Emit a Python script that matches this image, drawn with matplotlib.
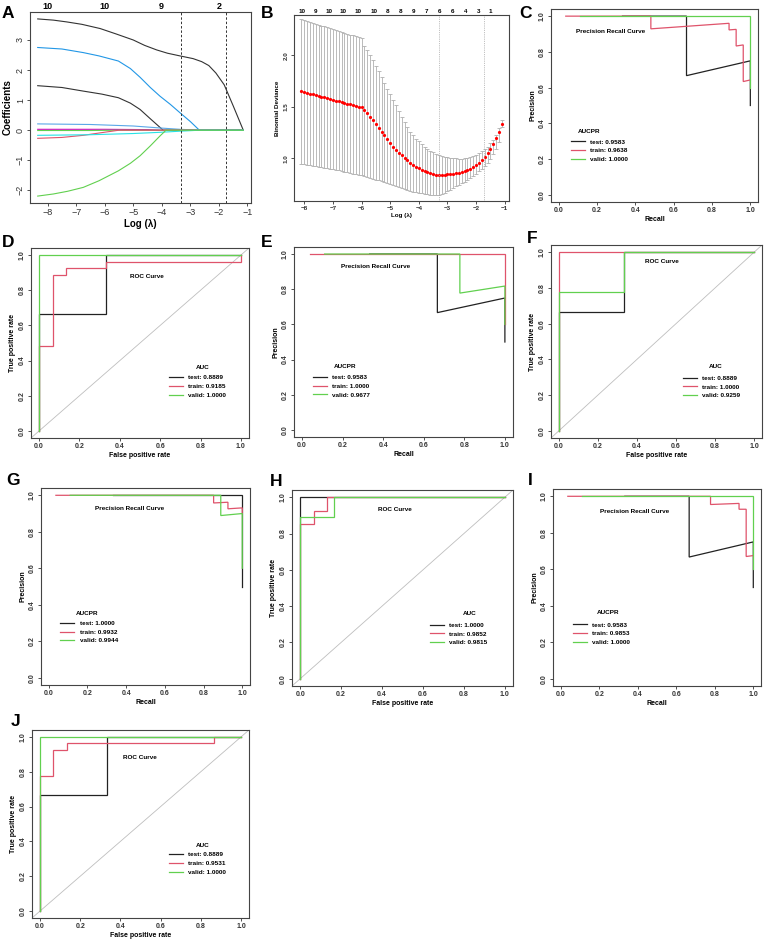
import matplotlib
matplotlib.use('Agg')
import matplotlib.pyplot as plt
from matplotlib.lines import Line2D

plt.rcParams['font.family'] = ['Liberation Sans', 'DejaVu Sans']

W, H = 767, 941
fig = plt.figure(figsize=(W / 100, H / 100), dpi=100)

# ---------------- Panel A : LASSO coefficient paths ----------------
A_path_colors = ['#333333', '#2297E6', '#333333', '#5AA7E8', '#CD0BBC',
                 '#61D04F', '#DF536B', '#28E2E5', '#61D04F']
A_path_x = [
    [-8.35, -7.8, -7.33, -6.8, -6.16, -5.6, -5.0, -4.6, -4.18, -3.8, -3.36, -2.9, -2.6, -2.35, -2.1, -1.81, -1.49, -1.14],
    [-8.35, -7.5, -6.75, -6.2, -5.52, -5.1, -4.76, -4.4, -4.06, -3.7, -3.36, -3.0, -2.68, -1.14],
    [-8.35, -7.5, -6.75, -6.1, -5.52, -5.1, -4.76, -4.4, -3.95, -1.14],
    [-8.35, -6.5, -5.0, -4.0, -3.36, -2.7, -1.14],
    [-8.35, -6.0, -4.5, -4.0, -1.14],
    [-8.35, -6.5, -5.5, -1.14],
    [-8.35, -7.5, -6.75, -6.1, -5.5, -1.14],
    [-8.35, -6.5, -5.0, -4.06, -3.3, -2.68, -1.14],
    [-8.35, -7.8, -7.3, -6.75, -6.2, -5.52, -5.1, -4.76, -4.4, -4.06, -3.85, -1.14],
]
A_path_y = [
    [3.70, 3.66, 3.60, 3.52, 3.38, 3.20, 3.00, 2.82, 2.67, 2.56, 2.47, 2.38, 2.28, 2.15, 1.90, 1.51, 0.80, 0.0],
    [2.75, 2.70, 2.58, 2.47, 2.30, 2.05, 1.76, 1.42, 1.13, 0.86, 0.58, 0.29, 0.0, 0.0],
    [1.48, 1.42, 1.30, 1.20, 1.08, 0.90, 0.69, 0.38, 0.0, 0.0],
    [0.21, 0.19, 0.14, 0.07, 0.03, 0.0, 0.0],
    [0.03, 0.03, 0.02, 0.0, 0.0],
    [-0.01, -0.01, 0.0, 0.0],
    [-0.27, -0.24, -0.17, -0.08, 0.0, 0.0],
    [-0.17, -0.15, -0.11, -0.07, -0.03, 0.0, 0.0],
    [-2.19, -2.12, -2.03, -1.90, -1.68, -1.35, -1.10, -0.85, -0.52, -0.19, 0.0, 0.0],
]
A_top_ticks = [-8, -6, -4, -2]
A_top_labels = ['10', '10', '9', '2']
lambda_min = -3.33
lambda_1se = -1.76

# ---------------- Panel B : CV binomial deviance ----------------
B_log_lambda = [-8.1, -8.0, -7.9, -7.8, -7.7, -7.6, -7.5, -7.4, -7.3, -7.2, -7.1, -7.0, -6.9, -6.8, -6.7, -6.6,
                -6.5, -6.4, -6.3, -6.2, -6.1, -6.0, -5.9, -5.8, -5.7, -5.6, -5.5, -5.4, -5.3, -5.2, -5.1, -5.0,
                -4.9, -4.8, -4.7, -4.6, -4.5, -4.4, -4.3, -4.2, -4.1, -4.0, -3.9, -3.8, -3.7, -3.6, -3.5, -3.4,
                -3.3, -3.2, -3.1, -3.0, -2.9, -2.8, -2.7, -2.6, -2.5, -2.4, -2.3, -2.2, -2.1, -2.0, -1.9, -1.8,
                -1.7, -1.6, -1.5, -1.4, -1.3, -1.2, -1.1]
B_cvm = [1.650, 1.643, 1.635, 1.628, 1.620, 1.613, 1.606, 1.598, 1.591, 1.584, 1.576, 1.569, 1.561, 1.554,
         1.547, 1.539, 1.532, 1.524, 1.517, 1.510, 1.502, 1.495, 1.470, 1.440, 1.405, 1.370, 1.335, 1.295,
         1.258, 1.222, 1.186, 1.150, 1.115, 1.085, 1.055, 1.030, 1.005, 0.980, 0.960, 0.940, 0.920, 0.905,
         0.890, 0.876, 0.864, 0.855, 0.848, 0.843, 0.840, 0.840, 0.842, 0.845, 0.848, 0.852, 0.856, 0.860,
         0.866, 0.874, 0.884, 0.897, 0.913, 0.932, 0.955, 0.982, 1.012, 1.050, 1.090, 1.140, 1.195, 1.260, 1.335]
B_cvup = [2.350, 2.341, 2.332, 2.324, 2.315, 2.306, 2.297, 2.288, 2.280, 2.271, 2.262, 2.253, 2.244, 2.236,
          2.227, 2.218, 2.209, 2.200, 2.192, 2.183, 2.174, 2.165, 2.090, 2.050, 2.000, 1.950, 1.900, 1.850,
          1.790, 1.735, 1.675, 1.625, 1.570, 1.520, 1.460, 1.400, 1.350, 1.300, 1.260, 1.225, 1.190, 1.165,
          1.140, 1.115, 1.095, 1.075, 1.060, 1.045, 1.035, 1.025, 1.018, 1.012, 1.007, 1.003, 1.000, 0.998,
          0.998, 1.000, 1.005, 1.012, 1.022, 1.035, 1.050, 1.068, 1.090, 1.115, 1.145, 1.180, 1.225, 1.290, 1.370]
B_cvlo = [0.945, 0.941, 0.937, 0.933, 0.929, 0.925, 0.920, 0.915, 0.910, 0.905, 0.900, 0.895, 0.889, 0.883,
          0.877, 0.871, 0.865, 0.859, 0.853, 0.847, 0.841, 0.835, 0.828, 0.820, 0.812, 0.804, 0.795, 0.786,
          0.777, 0.768, 0.759, 0.749, 0.740, 0.730, 0.720, 0.710, 0.700, 0.691, 0.683, 0.676, 0.670, 0.665,
          0.660, 0.656, 0.652, 0.650, 0.648, 0.647, 0.648, 0.655, 0.667, 0.682, 0.698, 0.713, 0.728, 0.742,
          0.757, 0.772, 0.789, 0.807, 0.827, 0.849, 0.873, 0.898, 0.925, 0.960, 0.998, 1.040, 1.090, 1.160, 1.300]
B_top_ticks = [-8.08, -7.62, -7.15, -6.63, -6.11, -5.56, -5.09, -4.63, -4.19, -3.74, -3.28, -2.83, -2.36, -1.91, -1.49]
B_top_labels = ['10', '9', '10', '10', '10', '10', '8', '8', '9', '7', '6', '6', '4', '3', '1']

# ---------------- Panels C, E, G, I : precision-recall ----------------
C_test_recall = [0.333, 0.667, 0.667, 1.0, 1.0]
C_test_precision = [1.0, 1.0, 0.667, 0.75, 0.5]
C_train_recall = [0.037, 0.481, 0.481, 0.889, 0.889, 0.926, 0.926, 0.963, 0.963, 1.0]
C_train_precision = [1.0, 1.0, 0.929, 0.96, 0.923, 0.926, 0.833, 0.839, 0.634, 0.643]
C_valid_recall = [0.111, 1.0, 1.0]
C_valid_precision = [1.0, 1.0, 0.6]
C_legend = ['test: 0.9583', 'train: 0.9638', 'valid: 1.0000']

E_test_recall = [0.333, 0.667, 0.667, 1.0, 1.0]
E_test_precision = [1.0, 1.0, 0.667, 0.75, 0.5]
E_train_recall = [0.037, 1.0, 1.0]
E_train_precision = [1.0, 1.0, 0.6]
E_valid_recall = [0.111, 0.778, 0.778, 1.0, 1.0]
E_valid_precision = [1.0, 1.0, 0.778, 0.818, 0.6]
E_legend = ['test: 0.9583', 'train: 1.0000', 'valid: 0.9677']

G_test_recall = [0.333, 1.0, 1.0]
G_test_precision = [1.0, 1.0, 0.5]
G_train_recall = [0.037, 0.852, 0.852, 0.926, 0.926, 1.0, 1.0]
G_train_precision = [1.0, 1.0, 0.958, 0.962, 0.926, 0.931, 0.9]
G_valid_recall = [0.111, 0.889, 0.889, 1.0, 1.0]
G_valid_precision = [1.0, 1.0, 0.889, 0.9, 0.6]
G_legend = ['test: 1.0000', 'train: 0.9932', 'valid: 0.9944']

I_test_recall = [0.333, 0.667, 0.667, 1.0, 1.0]
I_test_precision = [1.0, 1.0, 0.667, 0.75, 0.5]
I_train_recall = [0.037, 0.778, 0.778, 0.926, 0.926, 0.963, 0.963, 1.0]
I_train_precision = [1.0, 1.0, 0.955, 0.961, 0.929, 0.929, 0.67, 0.675]
I_valid_recall = [0.111, 1.0, 1.0]
I_valid_precision = [1.0, 1.0, 0.6]
I_legend = ['test: 0.9583', 'train: 0.9853', 'valid: 1.0000']

# ---------------- Panels D, F, H, J : ROC ----------------
D_test_fpr = [0, 0, 0.333, 0.333, 1.0]
D_test_tpr = [0, 0.667, 0.667, 1.0, 1.0]
D_train_fpr = [0, 0, 0.067, 0.067, 0.133, 0.133, 0.333, 0.333, 1.0, 1.0]
D_train_tpr = [0, 0.481, 0.481, 0.889, 0.889, 0.926, 0.926, 0.963, 0.963, 1.0]
D_valid_fpr = [0, 0, 1.0]
D_valid_tpr = [0, 1.0, 1.0]
D_legend = ['test: 0.8889', 'train: 0.9185', 'valid: 1.0000']

F_test_fpr = [0, 0, 0.333, 0.333, 1.0]
F_test_tpr = [0, 0.667, 0.667, 1.0, 1.0]
F_train_fpr = [0, 0, 1.0]
F_train_tpr = [0, 1.0, 1.0]
F_valid_fpr = [0, 0, 0.333, 0.333, 1.0]
F_valid_tpr = [0, 0.778, 0.778, 1.0, 1.0]
F_legend = ['test: 0.8889', 'train: 1.0000', 'valid: 0.9259']

H_test_fpr = [0, 0, 1.0]
H_test_tpr = [0, 1.0, 1.0]
H_train_fpr = [0, 0, 0.067, 0.067, 0.133, 0.133, 1.0]
H_train_tpr = [0, 0.852, 0.852, 0.926, 0.926, 1.0, 1.0]
H_valid_fpr = [0, 0, 0.167, 0.167, 1.0]
H_valid_tpr = [0, 0.889, 0.889, 1.0, 1.0]
H_legend = ['test: 1.0000', 'train: 0.9852', 'valid: 0.9815']

J_test_fpr = [0, 0, 0.333, 0.333, 1.0]
J_test_tpr = [0, 0.667, 0.667, 1.0, 1.0]
J_train_fpr = [0, 0, 0.067, 0.067, 0.133, 0.133, 0.867, 0.867, 1.0]
J_train_tpr = [0, 0.778, 0.778, 0.926, 0.926, 0.963, 0.963, 1.0, 1.0]
J_valid_fpr = [0, 0, 1.0]
J_valid_tpr = [0, 1.0, 1.0]
J_legend = ['test: 0.8889', 'train: 0.9531', 'valid: 1.0000']

unit_ticks = [0.0, 0.2, 0.4, 0.6, 0.8, 1.0]
unit_labels = ['0.0', '0.2', '0.4', '0.6', '0.8', '1.0']

COL_TEST = '#222222'
COL_TRAIN = '#DF536B'
COL_VALID = '#61D04F'
SPINE = '#444444'
IN_FS = 4.6


def rect(l, r, t, b):
    return [l / W, 1 - b / H, (r - l) / W, (b - t) / H]


def style(ax, fs, bold=True):
    for s in ax.spines.values():
        s.set_color(SPINE)
        s.set_linewidth(0.8)
    ax.tick_params(direction='out', length=2.5, width=0.6, colors='#333333', labelsize=fs, pad=1.2)
    for lab in ax.get_xticklabels():
        lab.set_fontweight('bold' if bold else 'normal')
    for lab in ax.get_yticklabels():
        lab.set_fontweight('bold' if bold else 'normal')
        lab.set_rotation(90)
        lab.set_va('center')


def letter(x, y, s):
    fig.text(x / W, 1 - y / H, s, fontsize=12.5, fontweight='bold', ha='left', va='top')


def curve_axes(r, xlabel, ylabel):
    ax = fig.add_axes(r)
    ax.set_xlim(-0.04, 1.04)
    ax.set_ylim(-0.04, 1.04)
    ax.set_xticks(unit_ticks, unit_labels)
    ax.set_yticks(unit_ticks, unit_labels)
    style(ax, 5)
    ax.set_xlabel(xlabel, fontsize=5, fontweight='bold', labelpad=1.5)
    ax.set_ylabel(ylabel, fontsize=5, fontweight='bold', labelpad=2)
    return ax


def add_legend(ax, title, labels, title_xy, anchor):
    handles = [Line2D([], [], color=c, lw=0.9) for c in (COL_TEST, COL_TRAIN, COL_VALID)]
    ax.text(title_xy[0], title_xy[1], title, fontsize=IN_FS, fontweight='bold', ha='center', va='center')
    ax.legend(handles, labels, loc='upper left', bbox_to_anchor=anchor, bbox_transform=ax.transData,
              frameon=False, prop={'size': IN_FS, 'weight': 'bold'}, handlelength=2.2,
              handletextpad=0.8, labelspacing=0.5, borderpad=0, borderaxespad=0)


def draw_curves(ax, xs, ys):
    for x, y, c in zip(xs, ys, (COL_TEST, COL_TRAIN, COL_VALID)):
        ax.plot(x, y, color=c, lw=0.9, solid_joinstyle='miter')


def title_text(ax, x, y, s):
    ax.text(x, y, s, fontsize=IN_FS, fontweight='bold', ha='center', va='center')


# ---- A ----
axA = fig.add_axes(rect(30, 251, 12, 203))
for xs, ys, c in zip(A_path_x, A_path_y, A_path_colors):
    axA.plot(xs, ys, color=c, lw=0.8)
axA.axvline(lambda_min, color='#333333', lw=0.7, ls=(0, (2.5, 2)))
axA.axvline(lambda_1se, color='#333333', lw=0.7, ls=(0, (2.5, 2)))
axA.set_xlim(-8.62, -0.87)
axA.set_ylim(-2.42, 3.93)
axA.set_xticks([-8, -7, -6, -5, -4, -3, -2, -1])
axA.set_yticks([-2, -1, 0, 1, 2, 3])
style(axA, 6.5, bold=False)
axA.set_xlabel('Log (λ)', fontsize=7, fontweight='bold', labelpad=1)
axA.set_ylabel('Coefficients', fontsize=7, fontweight='bold', labelpad=2)
topA = axA.secondary_xaxis('top')
topA.set_xticks(A_top_ticks, A_top_labels)
topA.tick_params(length=0, labelsize=6.5, pad=1)
for lab in topA.get_xticklabels():
    lab.set_fontweight('bold')
topA.spines['top'].set_visible(False)
letter(2, 6, 'A')

# ---- B ----
axB = fig.add_axes(rect(294, 509, 15, 201))
yerr = [[m - lo for m, lo in zip(B_cvm, B_cvlo)], [up - m for m, up in zip(B_cvm, B_cvup)]]
axB.errorbar(B_log_lambda, B_cvm, yerr=yerr, fmt='none', ecolor='#B0B0B0', elinewidth=0.6,
             capsize=1.6, capthick=0.6)
axB.plot(B_log_lambda, B_cvm, 'o', color='#FF0000', ms=2.3, mec='none')
axB.axvline(lambda_min + 0.05, color='#AAAAAA', lw=0.6, ls=(0, (1, 1.2)))
axB.axvline(lambda_1se + 0.04, color='#AAAAAA', lw=0.6, ls=(0, (1, 1.2)))
axB.set_xlim(-8.36, -0.85)
axB.set_ylim(0.587, 2.39)
axB.set_xticks([-8, -7, -6, -5, -4, -3, -2, -1])
axB.set_yticks([1.0, 1.5, 2.0], ['1.0', '1.5', '2.0'])
style(axB, 4.5)
axB.set_xlabel('Log (λ)', fontsize=4.5, fontweight='bold', labelpad=1)
axB.set_ylabel('Binomial Deviance', fontsize=4.5, fontweight='bold', labelpad=3)
topB = axB.secondary_xaxis('top')
topB.set_xticks(B_top_ticks, B_top_labels)
topB.tick_params(length=0, labelsize=4.5, pad=1)
for lab in topB.get_xticklabels():
    lab.set_fontweight('bold')
topB.spines['top'].set_visible(False)
letter(261, 6, 'B')

# ---- C ----
axC = curve_axes(rect(551, 758, 9, 202), 'Recall', 'Precision')
draw_curves(axC, [C_test_recall, C_train_recall, C_valid_recall],
            [C_test_precision, C_train_precision, C_valid_precision])
title_text(axC, 0.273, 0.912, 'Precision Recall Curve')
add_legend(axC, 'AUCPR', C_legend, (0.158, 0.356), (0.062, 0.312))
letter(519, 6, 'C')

# ---- D ----
axD = curve_axes(rect(31, 249, 248, 438), 'False positive rate', 'True positive rate')
axD.axline((0, 0), (1, 1), color='#BEBEBE', lw=0.6)
draw_curves(axD, [D_test_fpr, D_train_fpr, D_valid_fpr], [D_test_tpr, D_train_tpr, D_valid_tpr])
title_text(axD, 0.533, 0.878, 'ROC Curve')
add_legend(axD, 'AUC', D_legend, (0.81, 0.36), (0.642, 0.318))
letter(2, 235, 'D')

# ---- E ----
axE = curve_axes(rect(294, 513, 247, 437), 'Recall', 'Precision')
draw_curves(axE, [E_test_recall, E_train_recall, E_valid_recall],
            [E_test_precision, E_train_precision, E_valid_precision])
title_text(axE, 0.362, 0.927, 'Precision Recall Curve')
add_legend(axE, 'AUCPR', E_legend, (0.213, 0.363), (0.054, 0.314))
letter(261, 235, 'E')

# ---- F ----
axF = curve_axes(rect(551, 762, 245, 438), 'False positive rate', 'True positive rate')
axF.axline((0, 0), (1, 1), color='#BEBEBE', lw=0.6)
draw_curves(axF, [F_test_fpr, F_train_fpr, F_valid_fpr], [F_test_tpr, F_train_tpr, F_valid_tpr])
title_text(axF, 0.53, 0.947, 'ROC Curve')
add_legend(axF, 'AUC', F_legend, (0.803, 0.358), (0.637, 0.31))
letter(527, 231, 'F')

# ---- G ----
axG = curve_axes(rect(41, 250, 488, 685), 'Recall', 'Precision')
draw_curves(axG, [G_test_recall, G_train_recall, G_valid_recall],
            [G_test_precision, G_train_precision, G_valid_precision])
title_text(axG, 0.42, 0.926, 'Precision Recall Curve')
add_legend(axG, 'AUCPR', G_legend, (0.2, 0.354), (0.06, 0.313))
letter(6, 473, 'G')

# ---- H ----
axH = curve_axes(rect(292, 513, 490, 686), 'False positive rate', 'True positive rate')
axH.axline((0, 0), (1, 1), color='#BEBEBE', lw=0.6)
draw_curves(axH, [H_test_fpr, H_train_fpr, H_valid_fpr], [H_test_tpr, H_train_tpr, H_valid_tpr])
title_text(axH, 0.465, 0.935, 'ROC Curve')
add_legend(axH, 'AUC', H_legend, (0.827, 0.361), (0.634, 0.31))
letter(270, 474, 'H')

# ---- I ----
axI = curve_axes(rect(553, 761, 489, 686), 'Recall', 'Precision')
draw_curves(axI, [I_test_recall, I_train_recall, I_valid_recall],
            [I_test_precision, I_train_precision, I_valid_precision])
title_text(axI, 0.383, 0.919, 'Precision Recall Curve')
add_legend(axI, 'AUCPR', I_legend, (0.244, 0.362), (0.065, 0.31))
letter(528, 473, 'I')

# ---- J ----
axJ = curve_axes(rect(32, 249, 730, 918), 'False positive rate', 'True positive rate')
axJ.axline((0, 0), (1, 1), color='#BEBEBE', lw=0.6)
draw_curves(axJ, [J_test_fpr, J_train_fpr, J_valid_fpr], [J_test_tpr, J_train_tpr, J_valid_tpr])
title_text(axJ, 0.498, 0.88, 'ROC Curve')
add_legend(axJ, 'AUC', J_legend, (0.81, 0.377), (0.64, 0.339))
letter(11, 714, 'J')

fig.savefig('out.png', dpi=100, facecolor='white')
